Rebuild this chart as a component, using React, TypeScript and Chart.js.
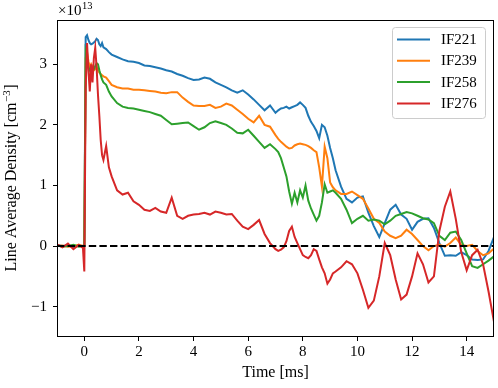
import React, { useEffect, useRef } from "react";
import { Chart, registerables } from "chart.js";

Chart.register(...registerables);

// time [ms]
const TIME = [
  -1.0, -0.8, -0.6, -0.4, -0.2, -0.05, 0.0,
  0.05, 0.1, 0.15, 0.2, 0.25, 0.3, 0.35, 0.4, 0.45, 0.5, 0.55, 0.6, 0.65, 0.7, 0.8, 0.9, 1.0,
  1.2, 1.4, 1.6, 1.8, 2.0, 2.2, 2.4, 2.6, 2.8, 3.0,
  3.2, 3.4, 3.6, 3.8, 4.0, 4.2, 4.4, 4.6, 4.8, 5.0,
  5.2, 5.4, 5.6, 5.8, 6.0, 6.2, 6.4, 6.6, 6.8, 7.0,
  7.1, 7.2, 7.3, 7.4, 7.5, 7.6, 7.7, 7.8, 7.9, 8.0,
  8.1, 8.2, 8.3, 8.4, 8.5, 8.6, 8.7, 8.8, 8.9, 9.0,
  9.1, 9.2,
  9.4, 9.6, 9.8, 10.0, 10.2, 10.4, 10.6, 10.8, 11.0, 11.2,
  11.4, 11.6, 11.8, 12.0, 12.2, 12.4, 12.6, 12.8, 13.0, 13.2,
  13.4, 13.6, 13.8, 14.0, 14.2, 14.4, 14.6, 14.8, 15.0,
];

// line average density [1e13 cm^-3]
const IF221 = [
  0.02, 0.0, 0.01, -0.02, 0.01, 0.0, 0.02,
  3.45, 3.48, 3.4, 3.35, 3.33, 3.34, 3.36, 3.38, 3.42, 3.4, 3.33, 3.3, 3.35, 3.28, 3.25, 3.2, 3.16,
  3.12, 3.08, 3.05, 3.04, 3.02, 2.98, 2.97, 2.95, 2.93, 2.9,
  2.88, 2.84, 2.81, 2.77, 2.74, 2.75, 2.78, 2.76, 2.7, 2.66,
  2.62, 2.57, 2.53, 2.57, 2.5, 2.42, 2.33, 2.24, 2.32, 2.2,
  2.24, 2.27, 2.28, 2.3, 2.27, 2.29, 2.31, 2.33, 2.37, 2.33,
  2.28, 2.15, 2.05, 1.98, 1.9, 1.78, 2.0, 1.96, 1.82, 1.62,
  1.45, 1.25,
  0.98, 0.78, 0.72, 0.8, 0.82, 0.55, 0.33, 0.15, 0.38, 0.6,
  0.68, 0.52, 0.45, 0.27, 0.4, 0.45, 0.46, 0.3, 0.05, -0.16,
  -0.15, -0.16, -0.1, -0.15, -0.22, -0.23, -0.22, -0.08, 0.15,
];

const IF239 = [
  0.0, 0.01, -0.01, 0.0, 0.02, 0.0, 0.0,
  3.1, 3.2, 3.05, 2.95, 3.0, 2.95, 2.9, 2.92, 2.95, 2.9, 2.86, 2.84, 2.82, 2.8, 2.78, 2.72, 2.66,
  2.62, 2.6, 2.6, 2.58, 2.58, 2.57, 2.56, 2.55, 2.53, 2.52,
  2.54, 2.54, 2.45, 2.38, 2.32, 2.31, 2.31, 2.33, 2.28, 2.3,
  2.35, 2.32, 2.25, 2.18, 2.1, 2.04, 2.15, 2.0, 1.97, 1.83,
  1.77, 1.72, 1.68, 1.64, 1.61, 1.62, 1.66, 1.68, 1.69, 1.68,
  1.67, 1.65, 1.62, 1.58, 1.55, 1.3, 0.98, 1.64, 1.45, 1.05,
  0.97, 0.92,
  0.86, 0.86, 0.9, 0.84, 0.78, 0.62, 0.45, 0.38, 0.24, 0.17,
  0.13, 0.17, 0.27, 0.2, 0.1, 0.0, -0.07, 0.0, 0.02, -0.01,
  0.05, 0.14, 0.02, 0.0, 0.02, -0.08, -0.15, -0.12, -0.04,
];

const IF258 = [
  0.01, -0.01, 0.0, 0.02, -0.01, 0.0, 0.0,
  3.2, 3.1, 2.95, 2.9, 2.85, 2.88, 2.92, 2.97, 3.02, 3.0, 2.9, 2.82, 2.75, 2.7, 2.66, 2.55, 2.47,
  2.36, 2.3, 2.28, 2.27, 2.25, 2.23, 2.21, 2.18, 2.15, 2.08,
  2.01, 2.02, 2.03, 2.04, 1.98, 1.92, 1.96, 2.03, 2.06, 2.03,
  2.0, 1.94, 1.87, 1.86, 1.92, 1.82, 1.72, 1.62, 1.68, 1.6,
  1.55, 1.45, 1.3, 1.15, 0.9, 0.7, 0.88, 0.72, 0.92, 0.8,
  1.0, 0.75, 0.62, 0.52, 0.42, 0.5, 0.72, 1.02, 0.88, 0.9,
  0.92, 0.88,
  0.78, 0.6, 0.38, 0.45, 0.5, 0.42, 0.44, 0.42, 0.36, 0.42,
  0.5, 0.53, 0.56, 0.54, 0.5, 0.46, 0.44, 0.38, 0.17, 0.1,
  0.22, 0.24, 0.1, -0.12, -0.33, -0.36, -0.3, -0.24, -0.17,
];

const IF276 = [
  0.03, -0.02, 0.04, -0.05, 0.02, -0.03, -0.42,
  2.6, 3.35, 2.9, 2.55, 3.0, 2.7, 3.1, 3.27, 2.95, 2.5, 2.15, 1.75, 1.5, 1.42, 1.65, 1.3, 1.15,
  0.92, 0.85, 0.88, 0.74, 0.68, 0.6, 0.58, 0.63, 0.57, 0.55,
  0.8, 0.5, 0.45, 0.5, 0.52, 0.53, 0.55, 0.52, 0.57, 0.55,
  0.52, 0.53, 0.42, 0.32, 0.28, 0.35, 0.43, 0.2, 0.05, -0.05,
  -0.08, -0.06, -0.02, 0.08, 0.25, 0.32, 0.15, 0.05, -0.05, -0.15,
  -0.18, -0.2, -0.15, -0.05, -0.08, -0.22, -0.35, -0.45, -0.62, -0.55,
  -0.45, -0.42,
  -0.35, -0.25, -0.3, -0.45, -0.72, -1.02, -0.9, -0.5, 0.05, -0.15,
  -0.55, -0.88, -0.8, -0.5, -0.12, -0.3, -0.6, -0.5, 0.25, 0.65,
  0.9, 0.45, -0.1, -0.4, -0.15, -0.06, -0.3, -0.75, -1.25,
];

const SERIES_LABELS = ["IF221", "IF239", "IF258", "IF276"];
const SERIES_VALUES = [IF221, IF239, IF258, IF276];
const SERIES_COLORS = ["#1f77b4", "#ff7f0e", "#2ca02c", "#d62728"];

const X_TICKS = [0, 2, 4, 6, 8, 10, 12, 14];
const Y_TICKS = [-1, 0, 1, 2, 3];
const X_RANGE = [-1, 15];
const Y_RANGE = [-1.5, 3.73];

const FONT = '"Liberation Serif", "Times New Roman", serif';

const fmt = (v: number) => (v < 0 ? "\u2212" + Math.abs(v) : String(v));

const decorPlugin = {
  id: "decor",
  afterDatasetsDraw(chart: any) {
    const { ctx, chartArea: a } = chart;
    ctx.save();
    ctx.strokeStyle = "#000";
    ctx.lineWidth = 1;
    ctx.strokeRect(Math.round(a.left) + 0.5, Math.round(a.top) + 0.5, Math.round(a.right - a.left) - 1, Math.round(a.bottom - a.top) - 1);
    ctx.restore();
  },
  afterDraw(chart: any) {
    const { ctx, chartArea: a } = chart;
    ctx.save();
    ctx.fillStyle = "#000";

    // exponent label
    ctx.textBaseline = "alphabetic";
    ctx.textAlign = "left";
    ctx.font = `15px ${FONT}`;
    const base = "\u00d710";
    ctx.fillText(base, a.left + 1, a.top - 5);
    const bw = ctx.measureText(base).width;
    ctx.font = `10.5px ${FONT}`;
    ctx.fillText("13", a.left + 1 + bw + 0.5, a.top - 11);

    // x title
    ctx.font = `16px ${FONT}`;
    ctx.textAlign = "center";
    ctx.textBaseline = "middle";
    ctx.fillText("Time [ms]", (a.left + a.right) / 2, a.bottom + 36);

    // y title with superscript
    ctx.save();
    ctx.translate(12, (a.top + a.bottom) / 2);
    ctx.rotate(-Math.PI / 2);
    ctx.textAlign = "left";
    ctx.textBaseline = "middle";
    const t1 = "Line Average Density [cm";
    const t2 = "\u22123";
    const t3 = "]";
    ctx.font = `16px ${FONT}`;
    const w1 = ctx.measureText(t1).width;
    const w3 = ctx.measureText(t3).width;
    ctx.font = `11px ${FONT}`;
    const w2 = ctx.measureText(t2).width;
    let x0 = -(w1 + w2 + w3) / 2;
    ctx.font = `16px ${FONT}`;
    ctx.fillText(t1, x0, 0);
    ctx.font = `11px ${FONT}`;
    ctx.fillText(t2, x0 + w1 + 0.5, -5);
    ctx.font = `16px ${FONT}`;
    ctx.fillText(t3, x0 + w1 + w2 + 1, 0);
    ctx.restore();

    // legend
    const lx = a.right - 102;
    const ly = a.top + 7;
    const lw = 93;
    const lh = 91;
    ctx.beginPath();
    ctx.roundRect(lx + 0.5, ly + 0.5, lw, lh, 3);
    ctx.fillStyle = "rgba(255,255,255,0.8)";
    ctx.fill();
    ctx.strokeStyle = "#cccccc";
    ctx.lineWidth = 1;
    ctx.stroke();
    ctx.font = `15px ${FONT}`;
    ctx.textAlign = "left";
    ctx.textBaseline = "middle";
    SERIES_LABELS.forEach((lab, i) => {
      const y = ly + 12.5 + i * 21.3;
      ctx.strokeStyle = SERIES_COLORS[i];
      ctx.lineWidth = 2;
      ctx.beginPath();
      ctx.moveTo(lx + 5, y);
      ctx.lineTo(lx + 38, y);
      ctx.stroke();
      ctx.fillStyle = "#000";
      ctx.fillText(lab, lx + 49, y + 0.5);
    });
    ctx.restore();
  },
};

export default function App() {
  const ref = useRef<HTMLCanvasElement | null>(null);
  useEffect(() => {
    if (!ref.current) return;
    const seriesSets = SERIES_VALUES.map((vals, i) => ({
      label: SERIES_LABELS[i],
      data: TIME.map((t, j) => ({ x: t, y: vals[j] })),
      borderColor: SERIES_COLORS[i],
      backgroundColor: SERIES_COLORS[i],
      borderWidth: 2,
      pointRadius: 0,
      tension: 0,
      order: 4 - i,
    }));
    const zeroSet = {
      label: "zero",
      data: [
        { x: X_RANGE[0], y: 0 },
        { x: X_RANGE[1], y: 0 },
      ],
      borderColor: "#000",
      borderWidth: 2,
      borderDash: [7.4, 3.2],
      pointRadius: 0,
      order: 0,
    };
    const tickFont = { family: FONT, size: 15 };
    const chart = new Chart(ref.current, {
      type: "line",
      data: { datasets: [zeroSet, ...seriesSets] as any },
      plugins: [decorPlugin],
      options: {
        animation: false,
        responsive: false,
        devicePixelRatio: 1,
        parsing: false as any,
        layout: { padding: { top: 20, right: 4, left: 0, bottom: 0 } },
        plugins: { legend: { display: false }, tooltip: { enabled: false } },
        scales: {
          x: {
            type: "linear",
            min: X_RANGE[0],
            max: X_RANGE[1],
            afterFit: (s: any) => {
              s.height = 51;
            },
            afterBuildTicks: (s: any) => {
              s.ticks = X_TICKS.map((v) => ({ value: v }));
            },
            ticks: {
              font: tickFont,
              color: "#000",
              padding: 2,
              maxRotation: 0,
              autoSkip: false,
              callback: (v: any) => fmt(Number(v)),
            },
            grid: { drawOnChartArea: false, drawTicks: true, tickLength: 4, color: "#000", lineWidth: 1 },
            border: { display: false },
          },
          y: {
            type: "linear",
            min: Y_RANGE[0],
            max: Y_RANGE[1],
            afterFit: (s: any) => {
              s.width = 57;
            },
            afterBuildTicks: (s: any) => {
              s.ticks = Y_TICKS.map((v) => ({ value: v }));
            },
            ticks: {
              font: tickFont,
              color: "#000",
              padding: 6,
              autoSkip: false,
              callback: (v: any) => fmt(Number(v)),
            },
            grid: { drawOnChartArea: false, drawTicks: true, tickLength: 4, color: "#000", lineWidth: 1 },
            border: { display: false },
          },
        },
      },
    });
    return () => chart.destroy();
  }, []);
  return (
    <div style={{ position: "absolute", left: 0, top: 0, width: 498, height: 388, background: "#fff" }}>
      <canvas ref={ref} width={498} height={388} style={{ display: "block" }} />
    </div>
  );
}
